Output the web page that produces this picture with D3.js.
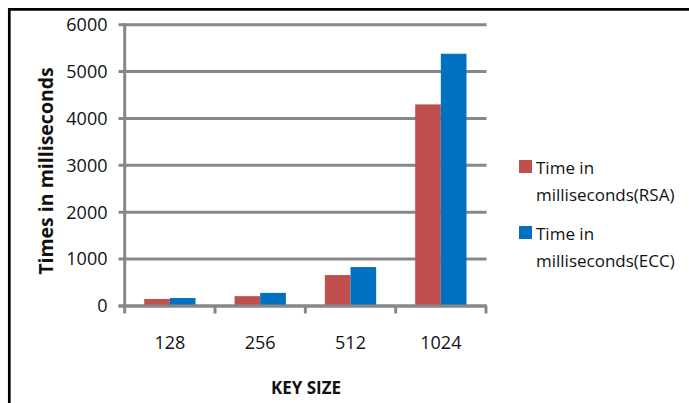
<!DOCTYPE html>
<html>
<head>
<meta charset="utf-8">
<script src="https://cdn.jsdelivr.net/npm/d3@7"></script>
<style>
  html, body { margin: 0; padding: 0; background: #fff; }
  svg { display: block; font-family: "Open Sans", sans-serif; }
</style>
</head>
<body>
<svg id="chart" width="689" height="403"></svg>
<script>
const categories = ["128", "256", "512", "1024"];
const seriesNames = ["Time in milliseconds(RSA)", "Time in milliseconds(ECC)"];
const legendLines = [["Time in", "milliseconds(RSA)"], ["Time in", "milliseconds(ECC)"]];
const rsaValues = [150, 210, 660, 4300];
const eccValues = [170, 280, 830, 5380];
const yTicks = [0, 1000, 2000, 3000, 4000, 5000, 6000];
const colors = ["#C0504D", "#0070C0"];
const seriesValues = [rsaValues, eccValues];

const svg = d3.select("#chart");
const gray = "#878787";

// frame (top and left borders)
svg.append("line").attr("x1", 8).attr("x2", 689).attr("y1", 9.3).attr("y2", 9.3)
  .attr("stroke", "#000").attr("stroke-width", 2.7);
svg.append("line").attr("x1", 9.3).attr("x2", 9.3).attr("y1", 8).attr("y2", 403)
  .attr("stroke", "#000").attr("stroke-width", 2.7);

const y = d3.scaleLinear().domain([0, 6000]).range([306, 24.7]);
const x0 = d3.scaleBand().domain(categories).range([124.7, 486]).padding(0);
const x1 = d3.scaleBand().domain([0, 1]).range([0, x0.bandwidth()]).paddingInner(0).paddingOuter(0.76);

// gridlines + y tick marks
svg.append("g").selectAll("line").data(yTicks).join("line")
  .attr("x1", 118.5).attr("x2", 486.5)
  .attr("y1", d => y(d)).attr("y2", d => y(d))
  .attr("stroke", gray).attr("stroke-width", 3);

// y tick labels
svg.append("g").selectAll("text").data(yTicks).join("text")
  .attr("x", 107.5).attr("y", d => y(d)).attr("dy", "0.35em")
  .attr("text-anchor", "end").attr("font-size", 18).attr("fill", "#111")
  .text(d => d);

// bars
const groups = svg.append("g").selectAll("g").data(categories).join("g")
  .attr("transform", c => `translate(${x0(c)},0)`);
groups.selectAll("rect").data((c, i) => seriesValues.map((s, k) => ({k, v: s[i]}))).join("rect")
  .attr("x", d => x1(d.k)).attr("width", x1.bandwidth())
  .attr("y", d => y(d.v)).attr("height", d => y(0) - y(d.v))
  .attr("fill", d => colors[d.k]);

// x axis line
svg.append("line").attr("x1", 118.5).attr("x2", 487).attr("y1", y(0)).attr("y2", y(0))
  .attr("stroke", gray).attr("stroke-width", 3);
// y axis line
svg.append("line").attr("x1", x0.range()[0]).attr("x2", x0.range()[0]).attr("y1", y(6000) - 1.5).attr("y2", 313.5)
  .attr("stroke", gray).attr("stroke-width", 3);
// x tick marks at band boundaries
const bounds = categories.map(c => x0(c) + x0.bandwidth());
svg.append("g").selectAll("line").data(bounds).join("line")
  .attr("x1", d => d).attr("x2", d => d).attr("y1", y(0)).attr("y2", 313.5)
  .attr("stroke", gray).attr("stroke-width", 3);

// category labels
svg.append("g").selectAll("text").data(categories).join("text")
  .attr("x", c => x0(c) + x0.bandwidth() / 2).attr("y", 349)
  .attr("text-anchor", "middle").attr("font-size", 18).attr("fill", "#111")
  .text(c => c);

// axis titles
svg.append("text").attr("x", 306).attr("y", 393.5).attr("text-anchor", "middle")
  .attr("font-size", 17).attr("font-weight", "bold").attr("fill", "#111").text("KEY SIZE");
svg.append("text").attr("transform", "translate(53,171) rotate(-90)").attr("text-anchor", "middle")
  .attr("font-size", 19.5).attr("font-weight", "bold").attr("fill", "#111").text("Times in milliseconds");

// legend
const legendTop = [160, 226];
const lg = svg.append("g").selectAll("g").data(seriesNames).join("g");
lg.append("rect").attr("x", 519).attr("y", (d, i) => legendTop[i]).attr("width", 13).attr("height", 13)
  .attr("fill", (d, i) => colors[i]);
lg.each(function(d, i) {
  const g = d3.select(this);
  legendLines[i].forEach((line, j) => {
    g.append("text").attr("x", 536).attr("y", legendTop[i] + 14.3 + j * 26.7)
      .attr("font-size", 17).attr("fill", "#111").text(line);
  });
});
</script>
</body>
</html>
